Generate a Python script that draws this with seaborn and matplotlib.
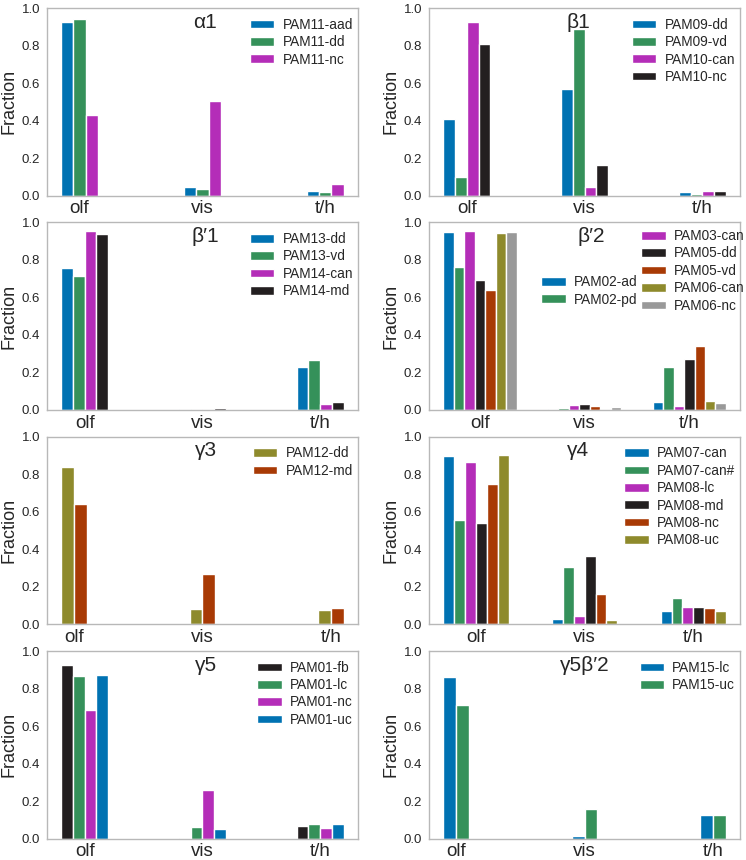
"""
PAM neuron modality fractions, one panel per compartment
"""
import pandas as pd
import matplotlib
matplotlib.use("Agg")
import matplotlib.pyplot as plt
import seaborn as sns

CATS = ["olf", "vis", "t/h"]

BLUE = "#0072B2"
GREEN = "#35915A"
MAGENTA = "#B42DB8"
BLACK = "#231F20"
RUST = "#A83A05"
OLIVE = "#8E8A2C"
GREY = "#999999"

# a1
A1_LABELS = ["PAM11-aad", "PAM11-dd", "PAM11-nc"]
A1_VALUES = [[0.927, 0.048, 0.023],
             [0.940, 0.037, 0.020],
             [0.428, 0.504, 0.064]]
A1_COLORS = [BLUE, GREEN, MAGENTA]

# b1
B1_LABELS = ["PAM09-dd", "PAM09-vd", "PAM10-can", "PAM10-nc"]
B1_VALUES = [[0.410, 0.567, 0.020],
             [0.100, 0.888, 0.011],
             [0.924, 0.048, 0.027],
             [0.808, 0.165, 0.027]]
B1_COLORS = [BLUE, GREEN, MAGENTA, BLACK]

# b'1
BP1_LABELS = ["PAM13-dd", "PAM13-vd", "PAM14-can", "PAM14-md"]
BP1_VALUES = [[0.755, 0.005, 0.227],
              [0.712, 0.005, 0.266],
              [0.954, 0.005, 0.030],
              [0.938, 0.008, 0.041]]
BP1_COLORS = [BLUE, GREEN, MAGENTA, BLACK]

# b'2
BP2_LABELS = ["PAM02-ad", "PAM02-pd", "PAM03-can", "PAM05-dd",
              "PAM05-vd", "PAM06-can", "PAM06-nc"]
BP2_VALUES = [[0.950, 0.005, 0.044],
              [0.760, 0.010, 0.227],
              [0.952, 0.027, 0.020],
              [0.693, 0.032, 0.274],
              [0.638, 0.020, 0.341],
              [0.945, 0.005, 0.048],
              [0.947, 0.014, 0.037]]
BP2_COLORS = [BLUE, GREEN, MAGENTA, BLACK, RUST, OLIVE, GREY]

# g3
G3_LABELS = ["PAM12-dd", "PAM12-md"]
G3_VALUES = [[0.840, 0.082, 0.075],
             [0.641, 0.270, 0.089]]
G3_COLORS = [OLIVE, RUST]

# g4
G4_LABELS = ["PAM07-can", "PAM07-can#", "PAM08-lc", "PAM08-md",
             "PAM08-nc", "PAM08-uc"]
G4_VALUES = [[0.897, 0.030, 0.071],
             [0.554, 0.304, 0.142],
             [0.863, 0.043, 0.092],
             [0.540, 0.364, 0.092],
             [0.746, 0.162, 0.089],
             [0.904, 0.021, 0.073]]
G4_COLORS = [BLUE, GREEN, MAGENTA, BLACK, RUST, OLIVE]

# g5
G5_LABELS = ["PAM01-fb", "PAM01-lc", "PAM01-nc", "PAM01-uc"]
G5_VALUES = [[0.925, 0.005, 0.067],
             [0.867, 0.059, 0.075],
             [0.684, 0.261, 0.055],
             [0.870, 0.053, 0.076]]
G5_COLORS = [BLACK, GREEN, MAGENTA, BLUE]

# g5b'2
G5BP2_LABELS = ["PAM15-lc", "PAM15-uc"]
G5BP2_VALUES = [[0.863, 0.014, 0.123],
                [0.712, 0.160, 0.128]]
G5BP2_COLORS = [BLUE, GREEN]

PANELS = [
    ("\u03b11", A1_LABELS, A1_VALUES, A1_COLORS),
    ("\u03b21", B1_LABELS, B1_VALUES, B1_COLORS),
    ("\u03b2\u20321", BP1_LABELS, BP1_VALUES, BP1_COLORS),
    ("\u03b2\u20322", BP2_LABELS, BP2_VALUES, BP2_COLORS),
    ("\u03b33", G3_LABELS, G3_VALUES, G3_COLORS),
    ("\u03b34", G4_LABELS, G4_VALUES, G4_COLORS),
    ("\u03b35", G5_LABELS, G5_VALUES, G5_COLORS),
    ("\u03b35\u03b2\u20322", G5BP2_LABELS, G5BP2_VALUES, G5BP2_COLORS),
]
TITLE_X = [0.51, 0.48, 0.51, 0.52, 0.51, 0.48, 0.51, 0.50]

BAR_W = 0.1

sns.set_style("white", {"axes.edgecolor": "#b8b8b8"})
plt.rcParams['font.family'] = ['Liberation Sans', 'DejaVu Sans']

fig, axes = plt.subplots(4, 2, figsize=(7.46, 8.6), dpi=100)
fig.subplots_adjust(left=0.063, right=0.992, top=0.9905, bottom=0.025,
                    wspace=0.23, hspace=0.1436)

for i, (title, labels, values, colors) in enumerate(PANELS):
    ax = axes.flat[i]
    rows = []
    for lab, vals in zip(labels, values):
        for c, v in zip(CATS, vals):
            rows.append({"cat": c, "series": lab, "frac": v})
    df = pd.DataFrame(rows)
    n = len(labels)
    sns.barplot(data=df, x="cat", y="frac", hue="series", hue_order=labels,
                order=CATS, palette=colors, width=BAR_W * n, gap=0,
                saturation=1, ax=ax, errorbar=None)
    # same x range matplotlib autoscale would give
    half = BAR_W * n / 2
    m = 0.05 * (2 + 2 * half)
    ax.set_xlim(-half - m, 2 + half + m)
    ax.set_ylim(0, 1.0)
    ax.set_yticks([0, 0.2, 0.4, 0.6, 0.8, 1.0])
    ax.set_xlabel("")
    ax.set_ylabel("Fraction", fontsize=13, labelpad=3)
    ax.tick_params(axis="x", labelsize=13.5, pad=0)
    ax.tick_params(axis="y", labelsize=9.5, pad=1.5)
    for s in ax.spines.values():
        s.set_linewidth(1.0)
    ax.text(TITLE_X[i], 0.925, title, transform=ax.transAxes,
            ha="center", va="center", fontsize=15)

    leg = ax.get_legend()
    handles = list(leg.legend_handles)
    names = [t.get_text() for t in leg.get_texts()]
    leg.remove()
    kw = dict(frameon=False, fontsize=9.8, handlelength=1.8,
              handleheight=0.6, labelspacing=0.25, borderaxespad=0.3,
              handletextpad=0.6)
    if title == "\u03b2\u20322":
        first = ax.legend(handles[:2], names[:2], loc="upper left",
                          bbox_to_anchor=(0.33, 0.77), **kw)
        ax.add_artist(first)
        ax.legend(handles[2:], names[2:], loc="upper right",
                  bbox_to_anchor=(1.045, 1.016), **kw)
    else:
        ax.legend(handles, names, loc="upper right",
                  bbox_to_anchor=(1.015, 1.0), **kw)

fig.savefig("out.png", dpi=100)
